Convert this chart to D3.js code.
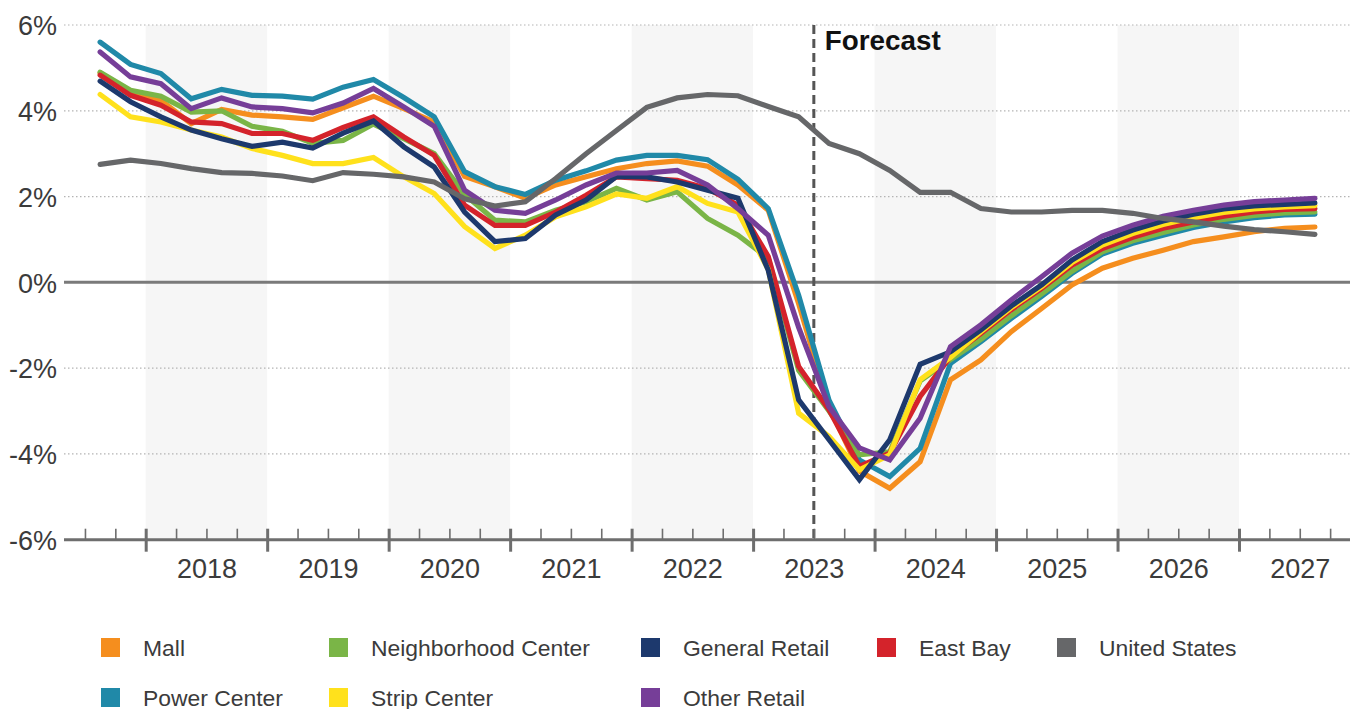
<!DOCTYPE html>
<html>
<head>
<meta charset="utf-8">
<script src="https://cdn.jsdelivr.net/npm/d3@7"></script>
<style>
  html, body { margin: 0; padding: 0; background: #ffffff; }
  svg { display: block; font-family: "Liberation Sans", Arial, Helvetica, sans-serif; }
</style>
</head>
<body>
<svg id="chart" width="1356" height="709"></svg>
<script>
// ---------------- DATA ----------------
const quarters = [
  "2017Q3","2017Q4",
  "2018Q1","2018Q2","2018Q3","2018Q4",
  "2019Q1","2019Q2","2019Q3","2019Q4",
  "2020Q1","2020Q2","2020Q3","2020Q4",
  "2021Q1","2021Q2","2021Q3","2021Q4",
  "2022Q1","2022Q2","2022Q3","2022Q4",
  "2023Q1","2023Q2","2023Q3","2023Q4",
  "2024Q1","2024Q2","2024Q3","2024Q4",
  "2025Q1","2025Q2","2025Q3","2025Q4",
  "2026Q1","2026Q2","2026Q3","2026Q4",
  "2027Q1","2027Q2","2027Q3"
];

const mall = [4.88,4.44,4.24,3.70,4.03,3.90,3.86,3.80,4.07,4.34,4.05,3.74,
  2.47,2.23,1.96,2.27,2.46,2.65,2.77,2.83,2.71,2.27,1.68,
  -0.50,-2.90,-4.40,-4.80,-4.18,-2.27,-1.81,-1.15,-0.61,-0.06,0.33,0.56,0.75,0.95,1.06,1.18,1.26,1.29];

const powerCenter = [5.60,5.08,4.87,4.28,4.50,4.36,4.34,4.27,4.55,4.73,4.31,3.86,
  2.58,2.23,2.05,2.38,2.60,2.85,2.96,2.96,2.86,2.40,1.72,
  -0.30,-2.75,-4.14,-4.53,-3.87,-1.89,-1.38,-0.84,-0.33,0.21,0.66,0.91,1.10,1.28,1.41,1.51,1.57,1.59];

const neighborhoodCenter = [4.90,4.48,4.34,3.97,4.00,3.64,3.52,3.24,3.31,3.69,3.35,3.00,
  2.05,1.45,1.41,1.68,1.88,2.19,1.92,2.11,1.49,1.10,0.56,
  -2.05,-3.00,-4.02,-3.95,-2.30,-1.80,-1.33,-0.78,-0.27,0.26,0.71,0.97,1.16,1.34,1.47,1.56,1.62,1.64];

const stripCenter = [4.38,3.86,3.74,3.55,3.39,3.12,2.96,2.77,2.77,2.91,2.46,2.07,
  1.30,0.79,1.10,1.53,1.76,2.06,1.96,2.23,1.84,1.64,0.30,
  -3.05,-3.59,-4.37,-4.02,-2.27,-1.75,-1.15,-0.59,-0.10,0.46,0.87,1.14,1.35,1.51,1.63,1.71,1.76,1.79];

const generalRetail = [4.69,4.21,3.86,3.55,3.35,3.17,3.27,3.13,3.48,3.76,3.16,2.69,
  1.64,0.95,1.02,1.57,1.92,2.47,2.46,2.34,2.15,1.96,0.28,
  -2.74,-3.67,-4.60,-3.67,-1.91,-1.62,-1.11,-0.55,-0.06,0.52,0.95,1.22,1.43,1.59,1.71,1.78,1.82,1.85];

const eastBay = [4.83,4.36,4.13,3.74,3.70,3.47,3.47,3.31,3.61,3.86,3.39,2.96,
  1.80,1.33,1.33,1.64,2.03,2.46,2.42,2.38,2.19,1.80,0.60,
  -1.96,-2.97,-4.29,-3.98,-2.66,-1.73,-1.19,-0.64,-0.14,0.40,0.79,1.05,1.26,1.41,1.54,1.64,1.70,1.72];

const otherRetail = [5.37,4.79,4.63,4.05,4.30,4.09,4.05,3.95,4.18,4.52,4.09,3.64,
  2.15,1.68,1.61,1.92,2.27,2.55,2.55,2.61,2.27,1.72,1.10,
  -1.05,-2.90,-3.86,-4.14,-3.17,-1.50,-0.99,-0.41,0.13,0.68,1.08,1.33,1.54,1.68,1.80,1.88,1.92,1.96];

const unitedStates = [2.75,2.85,2.77,2.65,2.56,2.54,2.48,2.37,2.56,2.52,2.46,2.34,
  1.95,1.78,1.88,2.42,3.00,3.54,4.08,4.30,4.38,4.35,4.10,
  3.86,3.24,3.00,2.61,2.10,2.10,1.72,1.64,1.64,1.68,1.68,1.61,1.49,1.41,1.31,1.23,1.18,1.12];

const yearLabels = ["2018","2019","2020","2021","2022","2023","2024","2025","2026","2027"];
const shadedYears = ["2018","2020","2022","2024","2026"];
const yTicks = [6, 4, 2, 0, -2, -4, -6];
const forecastStart = "2023Q3";
const forecastLabel = "Forecast";

// series definitions (drawing order) and legend order
const seriesNames = ["Mall","Power Center","Neighborhood Center","East Bay","Strip Center","General Retail","Other Retail","United States"];
const seriesValues = [mall, powerCenter, neighborhoodCenter, eastBay, stripCenter, generalRetail, otherRetail, unitedStates];
const seriesColors = ["#F58E1E","#2089A8","#7AB547","#D4232B","#FFE11C","#1D396D","#763E98","#666769"];
const legendRow1 = ["Mall","Neighborhood Center","General Retail","East Bay","United States"];
const legendRow2 = ["Power Center","Strip Center","Other Retail"];

// ---------------- HELPERS ----------------
function qToNum(q) { // centre of quarter as decimal year
  const y = +q.slice(0, 4), n = +q.slice(5);
  return y + (n - 0.5) / 4;
}
function qStart(q) {
  const y = +q.slice(0, 4), n = +q.slice(5);
  return y + (n - 1) / 4;
}

// ---------------- LAYOUT ----------------
const svg = d3.select("#chart");
const plotLeft = 64, plotRight = 1350;
const x = d3.scaleLinear().domain([2017.3275, 2027.9136]).range([plotLeft, plotRight]);
const y = d3.scaleLinear().domain([-6, 6]).range([539.7, 25]);

const textColor = "#3b3b3b";

// shaded alternating years
svg.append("g").selectAll("rect")
  .data(shadedYears)
  .join("rect")
  .attr("x", d => x(+d))
  .attr("width", d => x(+d + 1) - x(+d))
  .attr("y", y(6))
  .attr("height", y(-6) - y(6))
  .attr("fill", "#f6f6f6");

// dotted gridlines
svg.append("g").selectAll("line")
  .data(yTicks.filter(v => v !== 0 && v !== -6))
  .join("line")
  .attr("x1", plotLeft).attr("x2", plotRight)
  .attr("y1", d => y(d)).attr("y2", d => y(d))
  .attr("stroke", "#b4b4b4")
  .attr("stroke-width", 1.2)
  .attr("stroke-dasharray", "1.5,2.5");

// Y axis labels
const yAxis = d3.axisLeft(y).tickValues(yTicks).tickSize(0).tickPadding(0)
  .tickFormat(d => d + "%");
const gy = svg.append("g").attr("transform", "translate(57,0)").call(yAxis);
gy.select(".domain").remove();
gy.selectAll("text")
  .attr("x", 0).attr("dy", "0.36em")
  .attr("fill", textColor)
  .style("font-size", "27px")
  .style("font-family", "'Liberation Sans', Arial, sans-serif");

// zero line
svg.append("line")
  .attr("x1", plotLeft).attr("x2", plotRight)
  .attr("y1", y(0)).attr("y2", y(0))
  .attr("stroke", "#7a7a7a").attr("stroke-width", 3);

// forecast line
svg.append("line")
  .attr("x1", x(qStart(forecastStart))).attr("x2", x(qStart(forecastStart)))
  .attr("y1", y(6)).attr("y2", y(-6))
  .attr("stroke", "#555555").attr("stroke-width", 3)
  .attr("stroke-dasharray", "9,5");

svg.append("text")
  .attr("x", x(qStart(forecastStart)) + 11)
  .attr("y", 50)
  .attr("fill", "#111")
  .style("font-size", "27.8px")
  .style("font-weight", "bold")
  .text(forecastLabel);

// lines
const line = d3.line()
  .x((d, i) => x(qToNum(quarters[i])))
  .y(d => y(d));

svg.append("g").selectAll("path")
  .data(seriesValues)
  .join("path")
  .attr("d", d => line(d))
  .attr("fill", "none")
  .attr("stroke", (d, i) => seriesColors[i])
  .attr("stroke-width", 5.2)
  .attr("stroke-linejoin", "miter")
  .attr("stroke-linecap", "round");

// bottom axis: minor ticks (quarters)
const minorTicks = quarters.map(qStart).filter(v => v % 1 !== 0);
minorTicks.push(2027.75);
const minorAxis = d3.axisBottom(x).tickValues(minorTicks).tickSize(11).tickFormat("");
const gMinor = svg.append("g").attr("transform", `translate(0,${y(-6)})`).call(minorAxis);
gMinor.select(".domain").remove();
gMinor.selectAll(".tick line").attr("y1", 0).attr("y2", -11)
  .attr("stroke", "#6e6e6e").attr("stroke-width", 1.6);

// major ticks (years)
const majorTicks = yearLabels.map(d => +d);
const majorAxis = d3.axisBottom(x).tickValues(majorTicks).tickSize(12).tickFormat("");
const gMajor = svg.append("g").attr("transform", `translate(0,${y(-6)})`).call(majorAxis);
gMajor.select(".domain").remove();
gMajor.selectAll(".tick line").attr("y1", -11).attr("y2", 12)
  .attr("stroke", "#6e6e6e").attr("stroke-width", 3);

// axis baseline
svg.append("line")
  .attr("x1", plotLeft).attr("x2", plotRight)
  .attr("y1", y(-6)).attr("y2", y(-6))
  .attr("stroke", "#6e6e6e").attr("stroke-width", 3);

// year labels
const labelAxis = d3.axisBottom(x).tickValues(majorTicks.map(v => v + 0.5)).tickSize(0)
  .tickFormat((d, i) => yearLabels[i]);
const gLab = svg.append("g").attr("transform", `translate(0,${y(-6)})`).call(labelAxis);
gLab.select(".domain").remove();
gLab.selectAll("text")
  .attr("y", 38.5).attr("dy", 0)
  .attr("fill", textColor)
  .style("font-size", "27px")
  .style("font-family", "'Liberation Sans', Arial, sans-serif");

// legend
const legendCols = [101, 329, 641, 877, 1057];
const legendRows = [638, 688];
function drawLegendRow(names, rowY) {
  const g = svg.append("g");
  names.forEach((name, i) => {
    const color = seriesColors[seriesNames.indexOf(name)];
    g.append("rect")
      .attr("x", legendCols[i]).attr("y", rowY)
      .attr("width", 19).attr("height", 19)
      .attr("fill", color);
    g.append("text")
      .attr("x", legendCols[i] + 42).attr("y", rowY + 17.5)
      .attr("fill", textColor)
      .style("font-size", "22.9px")
      .text(name);
  });
}
drawLegendRow(legendRow1, legendRows[0]);
drawLegendRow(legendRow2, legendRows[1]);
</script>
</body>
</html>
